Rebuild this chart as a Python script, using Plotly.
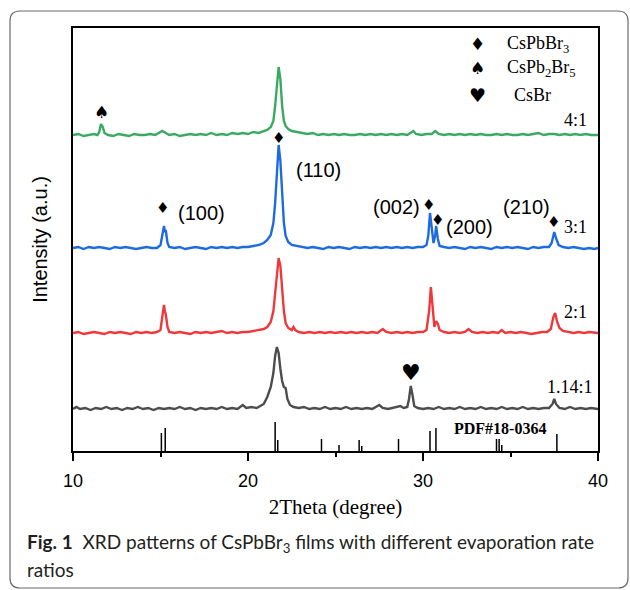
import plotly.graph_objects as go

# ---------------- data (2Theta in degree, intensity in a.u.) ----------------
green_x = [10.0, 10.3, 10.6, 10.9, 11.2, 11.4, 11.5, 11.6, 11.7, 11.8, 12.0, 12.3, 12.6, 12.9, 13.2, 13.5, 13.8,
           14.1, 14.4, 14.7, 14.9, 15.1, 15.3, 15.5, 15.8, 16.1, 16.4, 16.7, 17.0, 17.3, 17.6, 17.9, 18.2, 18.5,
           18.8, 19.1, 19.4, 19.7, 20.0, 20.3, 20.6, 20.9, 21.1, 21.3, 21.45, 21.55, 21.65, 21.75, 21.85, 21.95,
           22.05, 22.15, 22.3, 22.5, 22.8, 23.1, 23.4, 23.7, 24.0, 24.3, 24.6, 24.9, 25.2, 25.5, 25.8, 26.1, 26.4,
           26.7, 27.0, 27.3, 27.6, 27.9, 28.2, 28.5, 28.8, 29.1, 29.3, 29.45, 29.6, 29.9, 30.2, 30.5, 30.7, 30.9,
           31.2, 31.5, 31.8, 32.1, 32.4, 32.7, 33.0, 33.3, 33.6, 33.9, 34.2, 34.5, 34.8, 35.1, 35.4, 35.7, 36.0,
           36.3, 36.6, 36.9, 37.2, 37.5, 37.8, 38.1, 38.4, 38.7, 39.0, 39.3, 39.6, 40.0]
green_y = [316, 317, 315, 316, 317, 316, 319, 327, 324, 318, 316, 315, 317, 316, 315, 317, 316,
           316, 317, 316, 318, 320, 318, 316, 317, 315, 316, 317, 316, 317, 316, 318, 316, 317,
           316, 318, 317, 318, 317, 319, 318, 320, 321, 324, 330, 345, 368, 384, 372, 345,
           330, 325, 322, 320, 319, 318, 317, 318, 316, 317, 316, 317, 316, 317, 316, 316, 317,
           316, 317, 316, 317, 316, 317, 316, 317, 316, 318, 320, 317, 316, 317, 317, 320, 317,
           316, 317, 316, 317, 316, 317, 316, 317, 316, 316, 317, 316, 317, 316, 316, 317, 316,
           317, 318, 316, 317, 317, 316, 317, 316, 317, 316, 317, 316, 316]

blue_x = [10.0, 10.3, 10.6, 10.9, 11.2, 11.5, 11.8, 12.1, 12.4, 12.7, 13.0, 13.3, 13.6, 13.9, 14.2, 14.5, 14.8,
          15.0, 15.1, 15.2, 15.25, 15.3, 15.4, 15.5, 15.8, 16.1, 16.4, 16.7, 17.0, 17.3, 17.6, 17.9, 18.2, 18.5,
          18.8, 19.1, 19.4, 19.7, 20.0, 20.3, 20.6, 20.9, 21.1, 21.3, 21.45, 21.55, 21.65, 21.75, 21.85, 21.95,
          22.05, 22.15, 22.3, 22.5, 22.8, 23.1, 23.4, 23.7, 24.0, 24.3, 24.6, 24.9, 25.2, 25.5, 25.8, 26.1, 26.4,
          26.7, 27.0, 27.3, 27.6, 27.9, 28.2, 28.5, 28.8, 29.1, 29.4, 29.7, 30.0, 30.2, 30.3, 30.4, 30.5, 30.6,
          30.7, 30.75, 30.85, 30.95, 31.2, 31.5, 31.8, 32.1, 32.4, 32.7, 33.0, 33.3, 33.6, 33.9, 34.2, 34.5, 34.8,
          35.1, 35.4, 35.7, 36.0, 36.3, 36.6, 36.9, 37.2, 37.35, 37.5, 37.6, 37.75, 38.0, 38.3, 38.6, 38.9, 39.2,
          39.5, 39.8, 40.0]
blue_y = [203, 204, 202, 204, 203, 204, 203, 202, 204, 203, 204, 203, 202, 203, 204, 203, 203,
          206, 218, 225, 219, 221, 208, 204, 203, 204, 202, 203, 204, 203, 202, 204, 203, 204,
          203, 204, 203, 204, 204, 205, 206, 208, 211, 216, 228, 248, 280, 306, 290, 255,
          228, 215, 209, 206, 205, 204, 203, 204, 203, 202, 204, 203, 204, 203, 202, 204, 203,
          204, 203, 204, 203, 204, 203, 204, 203, 204, 203, 204, 204, 206, 215, 238, 220, 208,
          216, 225, 212, 205, 204, 203, 204, 203, 202, 204, 203, 204, 203, 202, 204, 203, 204,
          203, 204, 203, 202, 204, 203, 204, 204, 208, 219, 213, 206, 204, 203, 204, 203, 202,
          203, 202, 203]

red_x = [10.0, 10.3, 10.6, 10.9, 11.2, 11.5, 11.8, 12.1, 12.4, 12.7, 13.0, 13.3, 13.6, 13.9, 14.2, 14.5, 14.8,
         15.0, 15.1, 15.2, 15.25, 15.3, 15.4, 15.5, 15.8, 16.1, 16.4, 16.7, 17.0, 17.3, 17.6, 17.9, 18.2, 18.5,
         18.8, 19.1, 19.4, 19.7, 20.0, 20.3, 20.6, 20.9, 21.1, 21.3, 21.45, 21.55, 21.65, 21.75, 21.85, 21.95,
         22.05, 22.15, 22.3, 22.5, 22.6, 22.7, 22.9, 23.2, 23.5, 23.8, 24.1, 24.4, 24.7, 25.0, 25.3, 25.6, 25.9,
         26.2, 26.5, 26.8, 27.1, 27.4, 27.7, 27.9, 28.2, 28.5, 28.8, 29.1, 29.4, 29.7, 30.0, 30.2, 30.35, 30.45,
         30.55, 30.65, 30.75, 30.85, 30.95, 31.2, 31.5, 31.8, 32.1, 32.4, 32.6, 32.8, 33.1, 33.4, 33.7, 34.0,
         34.3, 34.5, 34.7, 35.0, 35.3, 35.6, 35.9, 36.2, 36.5, 36.8, 37.1, 37.3, 37.45, 37.55, 37.65, 37.8, 38.0,
         38.3, 38.6, 38.9, 39.2, 39.5, 39.8, 40.0]
red_y = [118, 119, 117, 118, 119, 118, 117, 119, 118, 119, 118, 117, 119, 118, 119, 118, 119,
         121, 134, 146, 140, 137, 124, 119, 118, 119, 118, 117, 119, 118, 119, 118, 119, 120,
         118, 119, 118, 119, 119, 120, 121, 122, 124, 129, 140, 158, 182, 193, 185, 162,
         140, 128, 123, 121, 124, 121, 119, 118, 119, 118, 119, 118, 119, 118, 119, 118, 119,
         118, 119, 118, 119, 118, 122, 119, 118, 119, 118, 119, 118, 119, 119, 121, 140, 164,
         140, 124, 130, 127, 121, 119, 118, 119, 118, 119, 122, 119, 118, 119, 118, 119,
         118, 121, 118, 119, 118, 119, 118, 117, 118, 119, 119, 122, 134, 138, 130, 123, 120,
         119, 118, 119, 118, 119, 118, 118]

grey_x = [10.0, 10.2, 10.4, 10.7, 11.0, 11.3, 11.6, 11.9, 12.2, 12.5, 12.8, 13.1, 13.4, 13.7, 14.0, 14.3, 14.6,
          14.9, 15.2, 15.5, 15.8, 16.1, 16.4, 16.7, 17.0, 17.3, 17.6, 17.9, 18.2, 18.5, 18.8, 19.1, 19.4, 19.7,
          19.9, 20.2, 20.5, 20.7, 20.9, 21.1, 21.3, 21.45, 21.55, 21.65, 21.75, 21.85, 21.95, 22.05, 22.15, 22.25,
          22.4, 22.6, 22.9, 23.2, 23.5, 23.8, 24.1, 24.4, 24.7, 25.0, 25.3, 25.6, 25.9, 26.2, 26.5, 26.8, 27.1,
          27.5, 27.7, 28.0, 28.3, 28.7, 28.9, 29.1, 29.2, 29.3, 29.4, 29.5, 29.7, 30.0, 30.3, 30.6, 30.9, 31.2,
          31.5, 31.8, 32.1, 32.4, 32.7, 33.0, 33.3, 33.6, 33.9, 34.2, 34.5, 34.8, 35.1, 35.4, 35.7, 36.0, 36.3,
          36.6, 36.9, 37.2, 37.4, 37.5, 37.6, 37.8, 38.1, 38.4, 38.7, 39.0, 39.3, 39.6, 40.0]
grey_y = [42, 44, 42, 43, 41, 43, 42, 44, 42, 43, 41, 43, 42, 44, 42, 43, 41,
          43, 42, 43, 42, 44, 42, 43, 41, 43, 42, 43, 42, 44, 42, 43, 42, 46,
          43, 44, 43, 45, 47, 54, 64, 78, 95, 104, 98, 82, 70, 64, 63, 52,
          46, 44, 43, 44, 42, 43, 42, 44, 42, 43, 42, 44, 42, 43, 42, 43, 42,
          46, 43, 42, 43, 45, 43, 44, 52, 65, 56, 45, 43, 42, 43, 42, 44, 42,
          43, 42, 44, 42, 43, 42, 44, 42, 43, 42, 44, 42, 43, 42, 44, 42, 43,
          42, 43, 43, 47, 52, 47, 43, 42, 44, 42, 43, 42, 43, 42]

# reference pattern PDF#18-0364 (stick positions and heights)
pdf_pos = [15.05, 15.27, 21.55, 21.7, 24.2, 25.2, 26.35, 26.5, 28.6, 30.4, 30.74, 34.2, 34.35, 34.5, 37.65]
pdf_int = [18, 23, 29, 11, 12, 6, 11, 5, 12, 20, 23, 12, 12, 6, 17]

series_names = ["4:1", "3:1", "2:1", "1.14:1"]
series_colors = ["#3aaa62", "#1e6be0", "#f0383c", "#4d4d4d"]

# peak markers: (symbol, 2theta, intensity level)
peak_marks = [("\u2660", 11.6, 339), ("\u2666", 21.72, 313), ("\u2666", 15.14, 243),
              ("\u2666", 30.34, 246), ("\u2666", 30.8, 231), ("\u2666", 37.43, 229),
              ("\u2665", 29.31, 79)]
hkl_labels = [("(100)", 17.37, 238), ("(110)", 24.0, 281), ("(002)", 28.51, 244),
              ("(200)", 32.63, 224), ("(210)", 35.94, 244)]
ratio_pos = [(38.74, 331), (38.74, 224), (38.74, 139), (38.4, 64)]
legend_items = [("\u2666", "CsPbBr<sub>3</sub>", 407), ("\u2660", "CsPb<sub>2</sub>Br<sub>5</sub>", 383),
                ("\u2665", "CsBr", 356)]

# ---------------- figure ----------------
W, H = 630, 590
ML, MR, MT, MB = 73, 32, 28, 139
PW, PH = W - ML - MR, H - MT - MB


def px(xp):
    return (xp - ML) / PW


def py(yp):
    return (H - MB - yp) / PH


fig = go.Figure()
for xs, ys, c, n in zip([green_x, blue_x, red_x, grey_x], [green_y, blue_y, red_y, grey_y],
                        series_colors, series_names):
    fig.add_trace(go.Scatter(x=xs, y=ys, mode="lines", name=n,
                             line=dict(color=c, width=2.4), showlegend=False))

sx, sy = [], []
for p, h in zip(pdf_pos, pdf_int):
    sx += [p, p, None]
    sy += [0, h, None]
fig.add_trace(go.Scatter(x=sx, y=sy, mode="lines", line=dict(color="black", width=1.5),
                         showlegend=False, name="PDF#18-0364"))

ann = []
for s, xv, yv in peak_marks:
    size = 22 if s == "\u2665" else (17 if s == "\u2660" else 15)
    ann.append(dict(x=xv, y=yv, text=s, showarrow=False, xanchor="center", yanchor="middle",
                    font=dict(family="DejaVu Sans", size=size, color="black")))
for t, xv, yv in hkl_labels:
    ann.append(dict(x=xv, y=yv, text=t, showarrow=False, xanchor="center", yanchor="middle",
                    font=dict(family="Liberation Sans, Arial", size=20, color="black")))
for n, (xv, yv) in zip(series_names, ratio_pos):
    ann.append(dict(x=xv, y=yv, text=n, showarrow=False, xanchor="center", yanchor="middle",
                    font=dict(family="Liberation Serif, Times New Roman", size=18, color="black")))
for s, t, yv in legend_items:
    ann.append(dict(x=33.1, y=yv, text=s, showarrow=False, xanchor="center", yanchor="middle",
                    font=dict(family="DejaVu Sans", size=17 if s != "\u2665" else 19, color="black")))
    ann.append(dict(x=34.7 if t != "CsBr" else 35.1, y=yv, text=t, showarrow=False, xanchor="left",
                    yanchor="middle",
                    font=dict(family="Liberation Serif, Times New Roman", size=18, color="black")))
ann.append(dict(x=34.4, y=23, text="<b>PDF#18-0364</b>", showarrow=False, xanchor="center",
                yanchor="middle", font=dict(family="Liberation Serif, Times New Roman", size=16,
                                            color="black")))
# caption
ann.append(dict(xref="paper", yref="paper", x=px(25), y=py(543), xanchor="left", yanchor="middle",
                showarrow=False,
                text="<b>Fig. 1</b>  XRD patterns of CsPbBr<sub>3</sub> films with different evaporation rate",
                font=dict(family="Lato, Open Sans", size=19, color="#231f20")))
ann.append(dict(xref="paper", yref="paper", x=px(25), y=py(569), xanchor="left", yanchor="middle",
                showarrow=False, text="ratios",
                font=dict(family="Lato, Open Sans", size=19, color="#231f20")))

# outer rounded frame
l, r, t, b, rad = 10, 628, 11, 588, 10
path = (f"M {px(l + rad)},{py(t)} L {px(r - rad)},{py(t)} Q {px(r)},{py(t)} {px(r)},{py(t + rad)} "
        f"L {px(r)},{py(b - rad)} Q {px(r)},{py(b)} {px(r - rad)},{py(b)} "
        f"L {px(l + rad)},{py(b)} Q {px(l)},{py(b)} {px(l)},{py(b - rad)} "
        f"L {px(l)},{py(t + rad)} Q {px(l)},{py(t)} {px(l + rad)},{py(t)} Z")

fig.update_layout(
    width=W, height=H, margin=dict(l=ML, r=MR, t=MT, b=MB),
    paper_bgcolor="white", plot_bgcolor="white",
    annotations=ann,
    shapes=[dict(type="path", xref="paper", yref="paper", path=path,
                 line=dict(color="#6b6b6b", width=1.2), layer="below")],
    xaxis=dict(range=[10, 40], tickvals=[10, 20, 30, 40], ticks="outside", ticklen=8, tickwidth=2,
               tickcolor="black", showline=True, linewidth=2, linecolor="black", mirror=True,
               showgrid=False, zeroline=False, ticklabelstandoff=4,
               tickfont=dict(family="Liberation Sans, Arial", size=18, color="black"),
               minor=dict(tickvals=[15, 25, 35], ticks="outside", ticklen=4, tickwidth=2,
                          tickcolor="black", showgrid=False),
               title=dict(text="2Theta (degree)", standoff=10,
                          font=dict(family="Liberation Serif, Times New Roman", size=21, color="black"))),
    yaxis=dict(range=[0, 423], showticklabels=False, ticks="", showline=True, linewidth=2,
               linecolor="black", mirror=True, showgrid=False, zeroline=False,
               title=dict(text="Intensity (a.u.)", standoff=18,
                          font=dict(family="Liberation Sans, Arial", size=20, color="black"))),
)

fig.write_html("out.html")
